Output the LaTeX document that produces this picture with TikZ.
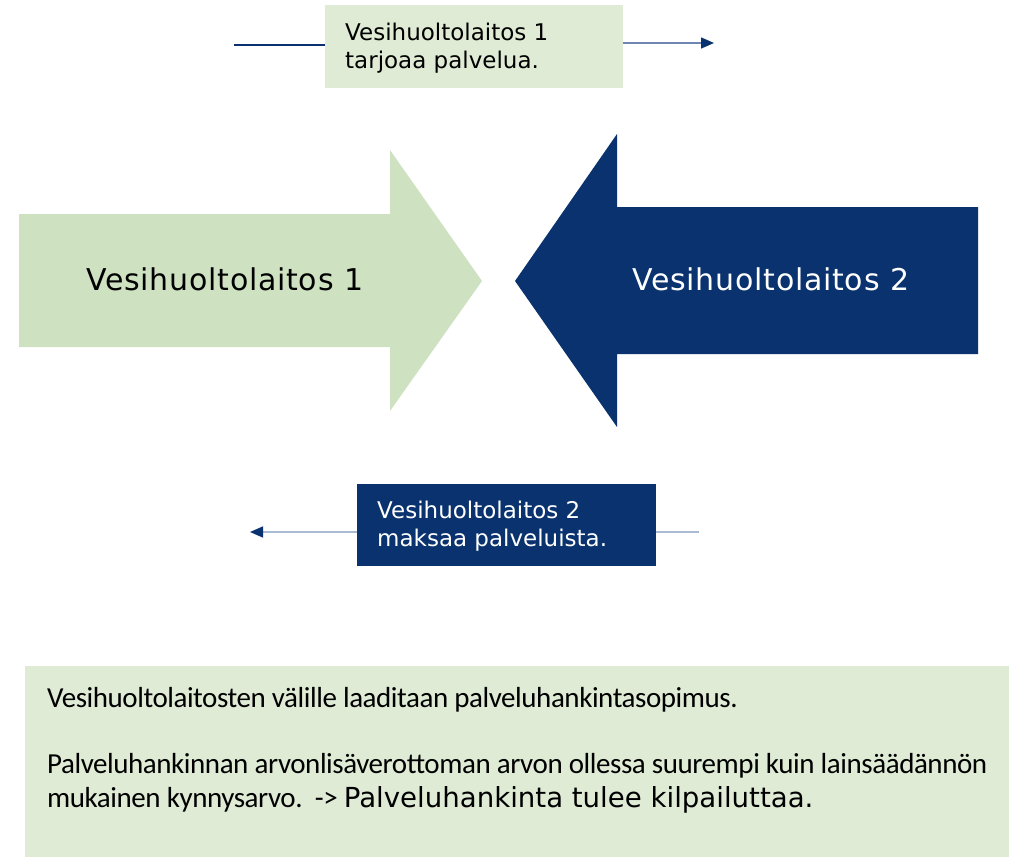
\documentclass[tikz,border=0pt]{standalone}
\usepackage{fontspec}
\setmainfont{DejaVu Sans}
\newfontfamily\vbig[LetterSpace=2.5]{DejaVu Sans}
\newfontfamily\vsm{DejaVu Sans}
\newfontfamily\calib[LetterSpace=-1.5]{Carlito}
\usetikzlibrary{arrows.meta}
\definecolor{navy}{RGB}{9,50,110}
\definecolor{lgreen}{RGB}{206,226,194}
\definecolor{pgreen}{RGB}{223,235,213}
\definecolor{lineA}{RGB}{110,135,178}
\definecolor{lineB}{RGB}{170,185,212}
\tikzset{
  txt/.style={inner sep=0pt, anchor=base west, align=left},
  conn/.style={line width=1.5pt},
  tip/.style={-{Triangle[length=13pt,width=11pt,color=navy]}},
}
\begin{document}
\begin{tikzpicture}[x=1pt,y=-1pt]
\useasboundingbox (0,0) rectangle (1009,859);
% big arrows
\fill[lgreen] (19,214) -- (390,214) -- (390,150) -- (482,281) -- (390,411) -- (390,347) -- (19,347) -- cycle;
\fill[navy] (978,207) -- (617,207) -- (617,134) -- (515,281) -- (617,427) -- (617,354) -- (978,354) -- cycle;
\node[txt, font=\vbig\fontsize{30}{36}\selectfont, text=black] (a1) at (86,290) {Vesihuoltolaitos 1};
\node[txt, font=\vbig\fontsize{30}{36}\selectfont, text=white] (a2) at (632,290) {Vesihuoltolaitos 2};
% top box
\node[fill=pgreen, minimum width=298pt, minimum height=83pt, inner sep=0pt, anchor=north west] (t1) at (325,5) {};
\node[txt, font=\vsm\fontsize{23}{28}\selectfont] (t1a) at (345,41) {Vesihuoltolaitos 1};
\node[txt, font=\vsm\fontsize{23}{28}\selectfont] (t1b) at (345,69) {tarjoaa palvelua.};
\coordinate (tl) at (234,45);
\coordinate (tr) at (714,43);
\draw[conn, navy] (tl) -- (tl -| t1.west);
\draw[conn, lineA, tip] (t1.east |- tr) -- (tr);
% bottom box
\node[fill=navy, minimum width=299pt, minimum height=82pt, inner sep=0pt, anchor=north west] (b1) at (357,484) {};
\node[txt, font=\vsm\fontsize{23}{28}\selectfont, text=white] (b1a) at (377,518) {Vesihuoltolaitos 2};
\node[txt, font=\vsm\fontsize{23}{28}\selectfont, text=white] (b1b) at (377,546) {maksaa palveluista.};
\coordinate (br) at (699,532);
\coordinate (bl) at (250,532);
\draw[conn, lineB] (br) -- (br -| b1.east);
\draw[conn, lineB, tip] (b1.west |- bl) -- (bl);
% panel
\node[fill=pgreen, minimum width=984pt, minimum height=191pt, inner sep=0pt, anchor=north west] (p) at (25,666) {};
\node[txt, font=\calib\fontsize{29}{34}\selectfont] (p1) at (47,707) {Vesihuoltolaitosten välille laaditaan palveluhankintasopimus.};
\node[txt, font=\calib\fontsize{29}{34}\selectfont] (p2) at (47,773) {Palveluhankinnan arvonlisäverottoman arvon ollessa suurempi kuin lainsäädännön};
\node[txt, font=\calib\fontsize{29}{34}\selectfont] (p3) at (47,807) {mukainen kynnysarvo.\ \ ->\ {\vsm\fontsize{27.6}{32}\selectfont Palveluhankinta tulee kilpailuttaa.}};
\end{tikzpicture}
\end{document}
